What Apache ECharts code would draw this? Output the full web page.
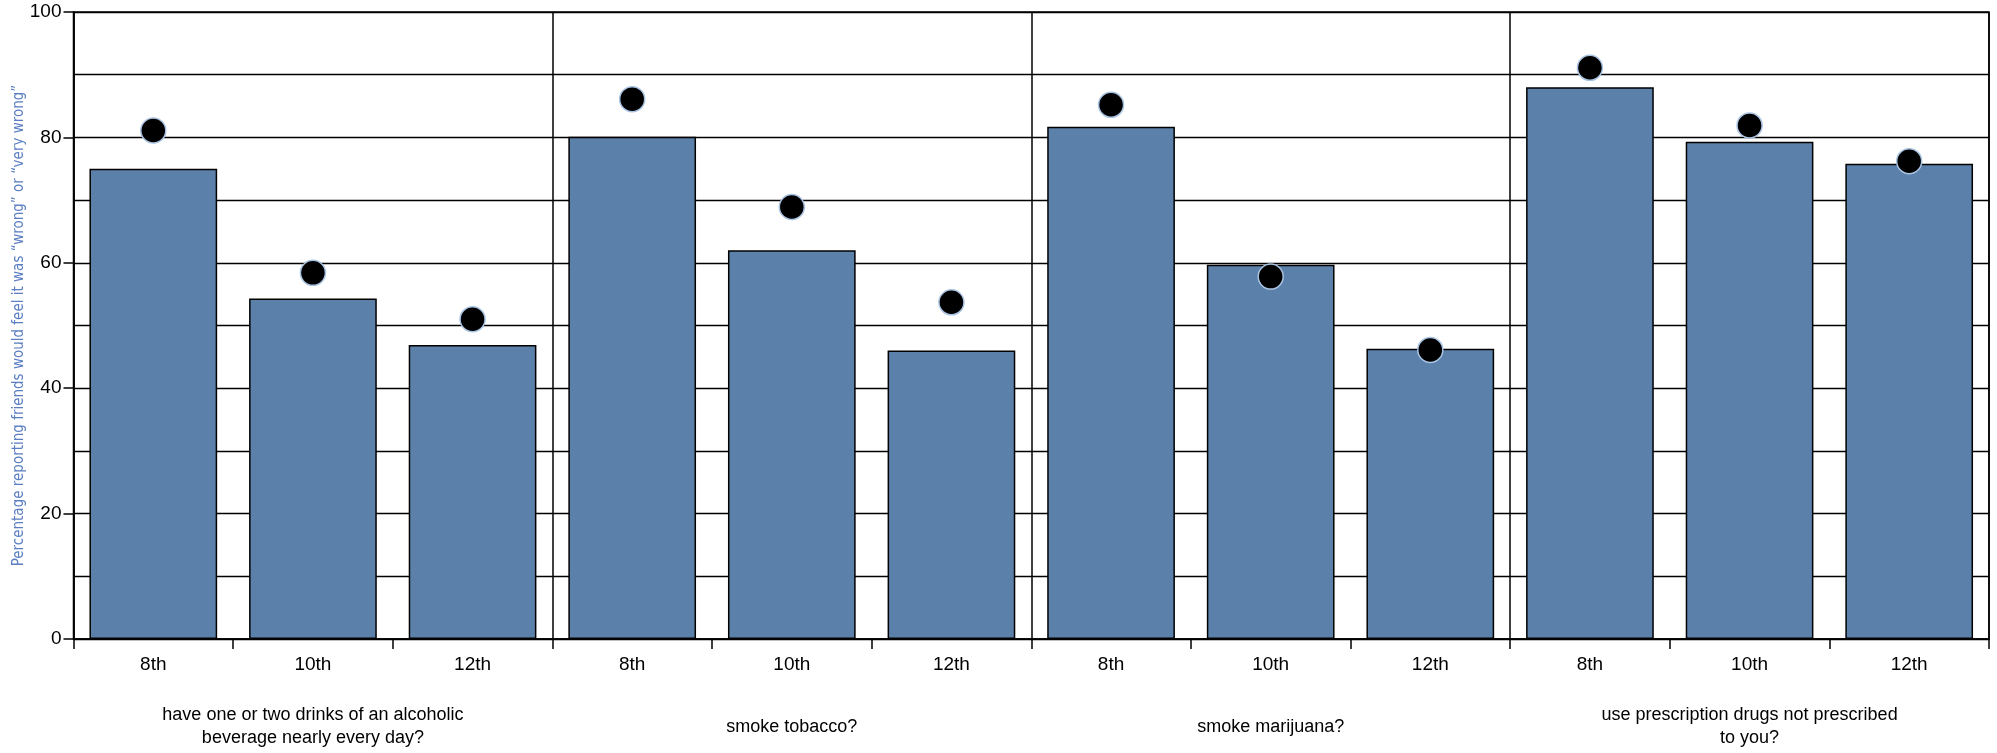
<!DOCTYPE html>
<html>
<head>
<meta charset="utf-8">
<script src="https://cdn.jsdelivr.net/npm/echarts@6/dist/echarts.min.js"></script>
<style>
html,body{margin:0;padding:0;background:#fff;}
#chart{width:1997px;height:753px;}
</style>
</head>
<body>
<div id="chart"></div>
<script>
const grades = ['8th', '10th', '12th'];
const groups = [
  'have one or two drinks of an alcoholic\nbeverage nearly every day?',
  'smoke tobacco?',
  'smoke marijuana?',
  'use prescription drugs not prescribed\nto you?'
];
const barValues = [75.0, 54.3, 46.9, 80.1, 62.0, 46.0, 81.7, 59.7, 46.3, 88.0, 79.3, 75.8];
const dotValues = [81.1, 58.4, 51.0, 86.1, 68.9, 53.7, 85.2, 57.8, 46.1, 91.1, 81.9, 76.2];
const yTicks = [0, 20, 40, 60, 80, 100];
const yTitle = 'Percentage reporting friends would feel it was \u201cwrong\u201d or \u201cvery wrong\u201d';

const categories = [];
groups.forEach(function (g) {
  grades.forEach(function (gr) { categories.push(gr); });
});

const chart = echarts.init(document.getElementById('chart'), null, {renderer: 'canvas'});
const FONT = "'Liberation Sans', Arial, sans-serif";
chart.setOption({
  animation: false,
  backgroundColor: '#ffffff',
  grid: {
    left: 73.5, right: 8, top: 12, bottom: 114,
    containLabel: false,
    outerBoundsMode: 'none',
    show: true, borderColor: '#000', borderWidth: 1.5, backgroundColor: 'transparent'
  },
  xAxis: [{
    type: 'category',
    data: categories,
    position: 'bottom',
    axisLine: {lineStyle: {color: '#000', width: 1.5}},
    axisTick: {show: true, length: 10, lineStyle: {color: '#000', width: 1.5}},
    axisLabel: {interval: 0, margin: 16, fontSize: 19, color: '#000', fontFamily: FONT},
    splitLine: {
      show: true,
      interval: function (index) { return index % grades.length === 0; },
      lineStyle: {color: '#000', width: 1.5}
    }
  }, {
    type: 'category',
    data: groups,
    position: 'bottom',
    axisLine: {show: false},
    axisTick: {show: false},
    splitLine: {show: false},
    axisLabel: {interval: 0, margin: 88, verticalAlign: 'middle', lineHeight: 23, fontSize: 18, color: '#000', fontFamily: FONT}
  }],
  yAxis: {
    type: 'value',
    min: yTicks[0], max: yTicks[yTicks.length - 1], interval: 20,
    name: yTitle,
    nameLocation: 'middle',
    nameGap: 47,
    nameMoveOverlap: false,
    nameTextStyle: {color: '#5b7ec2', fontSize: 15, fontFamily: "'Liberation Sans Narrow', 'DejaVu Sans Condensed', sans-serif"},
    axisLine: {show: true, lineStyle: {color: '#000', width: 1.5}},
    axisTick: {show: true, length: 10, lineStyle: {color: '#000', width: 1.5}},
    axisLabel: {margin: 12, fontSize: 19, color: '#000', fontFamily: FONT},
    splitLine: {show: true, lineStyle: {color: '#000', width: 1.3}},
    minorTick: {show: false, splitNumber: 2},
    minorSplitLine: {show: true, lineStyle: {color: '#000', width: 1.3}}
  },
  series: [{
    type: 'bar',
    xAxisIndex: 0,
    data: barValues,
    barWidth: '80%',
    itemStyle: {color: '#5b80aa', borderColor: '#000', borderWidth: 1.5}
  }, {
    type: 'scatter',
    xAxisIndex: 0,
    data: dotValues,
    symbol: 'circle',
    symbolSize: 25,
    itemStyle: {color: '#000', borderColor: '#a9c3e3', borderWidth: 1.5, opacity: 1},
    z: 5
  }]
});
</script>
</body>
</html>
